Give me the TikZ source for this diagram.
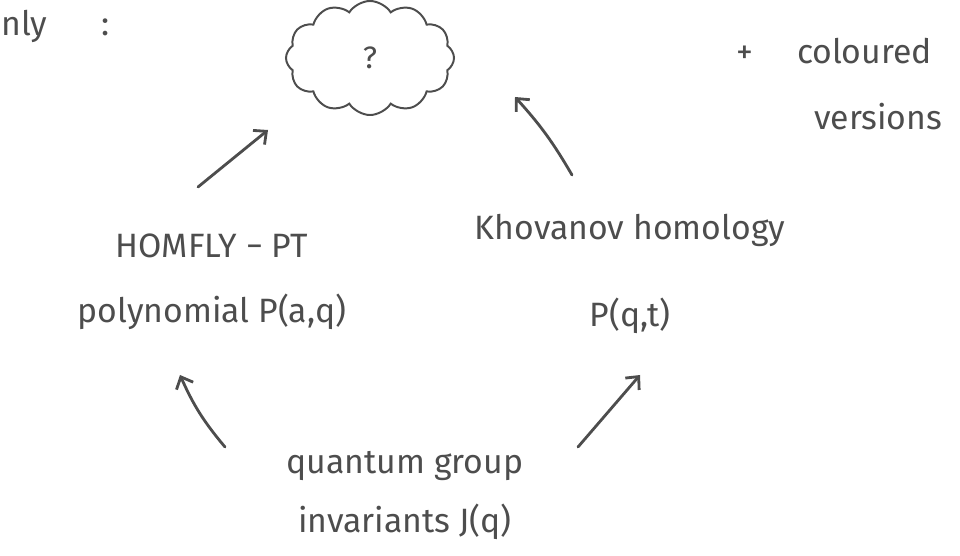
\documentclass[tikz,border=0pt]{standalone}
\usepackage{fontspec}
\setmainfont{Fira Sans}
\usetikzlibrary{shapes.symbols,arrows.meta,calc}
\definecolor{ink}{HTML}{4D4D4D}
\tikzset{
  label text/.style={text=ink, inner sep=0pt, font=\fontsize{24}{46}\selectfont, align=center},
  arr/.style={draw=ink, line width=2pt, line cap=round,
    -{Straight Barb[length=7pt,width=13pt,line width=2pt]}},
  puffy/.style={cloud, cloud puffs=12, cloud puff arc=115, cloud ignores aspect, draw=ink,
    line width=1.4pt, minimum width=4.2cm, minimum height=2.85cm, text=ink,
    font=\fontsize{22}{26}\selectfont}
}
\begin{document}
\begin{tikzpicture}[x=0.025cm, y=-0.025cm]
  \useasboundingbox (0,0) rectangle (960,556);

  % heading fragment and side note
  \node[label text, anchor=base west] (intro) at (1,36) {nly\hspace{1.6em}:};
  \node[label text, anchor=base west] (colour) at (736,64) {+\hspace{1.3em}coloured};
  \node[label text, anchor=base west] (vers) at (814,130) {versions};

  % the unknown object
  \node[puffy] (cloud) at (370,58) {?};

  % the three invariants
  \node[label text, anchor=north] (homfly) at (212,234) {HOMFLY − PT\\polynomial P(a,q)};
  \node[label text, anchor=north] (khov) at (630,214) {Khovanov homology\\[0.55cm]P(q,t)};
  \node[label text, anchor=north] (quant) at (405,451) {quantum group\\[-0.15cm]invariants J(q)};

  % arrows
  \draw[arr] ($(homfly.north)+(-14,-47)$) -- ($(cloud.center)+(-102,72)$);
  \draw[arr] ($(khov.north)+(-58,-39)$) to[bend right=6] ($(cloud.center)+(145,39)$);
  \draw[arr] ($(quant.north)+(-180,-4)$) to[bend left=8] ($(homfly.north)+(-32,141)$);
  \draw[arr] ($(quant.north)+(173,-4)$) -- ($(khov.north)+(10,161)$);
\end{tikzpicture}
\end{document}
